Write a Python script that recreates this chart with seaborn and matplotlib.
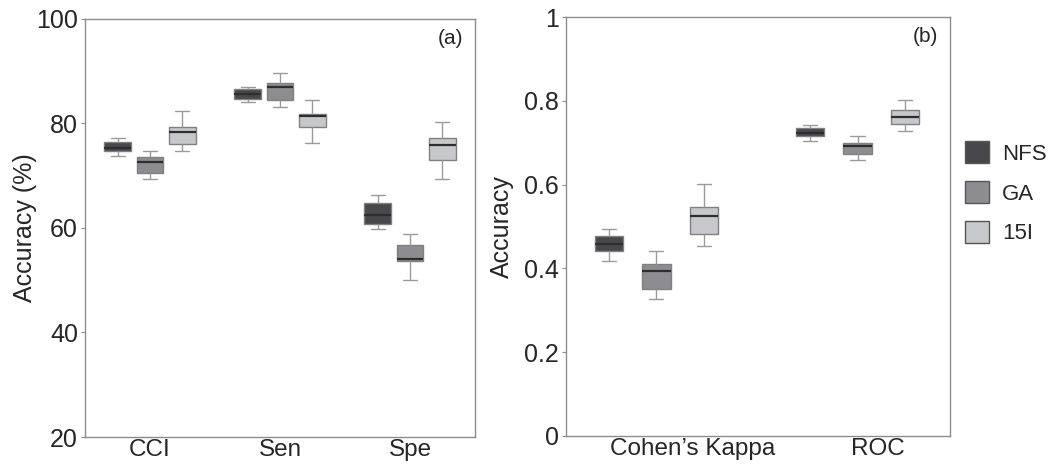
import pandas as pd
import numpy as np
import matplotlib
matplotlib.use('Agg')
import matplotlib.pyplot as plt
from matplotlib.patches import Patch
from matplotlib.transforms import ScaledTranslation
import seaborn as sns

# --- data: five-number summaries (min, q1, median, q3, max) ---
methods = ['NFS', 'GA', '15I']
left_metrics = ['CCI', 'Sen', 'Spe']
right_metrics = ['Cohen’s Kappa', 'ROC']

nfs_left = [[73.7, 74.7, 75.4, 76.4, 77.3],
            [84.2, 84.7, 85.7, 86.6, 86.9],
            [59.9, 60.8, 62.4, 64.7, 66.4]]
ga_left = [[69.4, 70.5, 72.7, 73.6, 74.8],
           [83.2, 84.5, 87.0, 87.7, 89.7],
           [50.1, 53.7, 54.1, 56.8, 58.9]]
i15_left = [[74.7, 76.0, 78.4, 79.4, 82.3],
            [76.2, 79.4, 81.4, 81.8, 84.5],
            [69.3, 73.0, 75.8, 77.2, 80.2]]

nfs_right = [[0.418, 0.441, 0.458, 0.477, 0.493],
             [0.705, 0.716, 0.724, 0.735, 0.742]]
ga_right = [[0.326, 0.352, 0.394, 0.410, 0.442],
            [0.658, 0.672, 0.691, 0.700, 0.716]]
i15_right = [[0.453, 0.481, 0.526, 0.547, 0.602],
             [0.727, 0.745, 0.762, 0.777, 0.801]]

colors = {'NFS': '#48474c', 'GA': '#8d8c91', '15I': '#c7c8cb'}


def to_long(metrics, per_method):
    rows = []
    for m, vals in zip(methods, per_method):
        for metric, five in zip(metrics, vals):
            for v in five:
                rows.append({'metric': metric, 'method': m, 'value': v})
    return pd.DataFrame(rows)


df_left = to_long(left_metrics, [nfs_left, ga_left, i15_left])
df_right = to_long(right_metrics, [nfs_right, ga_right, i15_right])

sns.set_style('white')
plt.rcParams['font.family'] = ['Liberation Sans', 'DejaVu Sans']

fig = plt.figure(figsize=(10.56, 4.65), dpi=100)
ax1 = fig.add_axes([0.0805, 0.0602, 0.3693, 0.899])
ax2 = fig.add_axes([0.536, 0.0624, 0.3636, 0.901])

box_kw = dict(whis=(0, 100), showfliers=False, linecolor='#808080', linewidth=1.0,
              medianprops=dict(color='#2e2e2e', linewidth=1.6),
              whiskerprops=dict(color='#9a9a9a'),
              capprops=dict(color='#9a9a9a'),
              saturation=1, legend=False)

sns.boxplot(data=df_left, x='metric', y='value', hue='method', order=left_metrics,
            hue_order=methods, palette=colors, width=0.74, gap=0.16, ax=ax1, **box_kw)
sns.boxplot(data=df_right, x='metric', y='value', hue='method', order=right_metrics,
            hue_order=methods, palette=colors, width=0.71, gap=0.41, ax=ax2, **box_kw)

ax1.set_ylim(20, 100)
ax1.set_yticks([20, 40, 60, 80, 100])
ax1.set_xlim(-0.5, 2.5)
ax1.set_ylabel('Accuracy (%)', fontsize=18, labelpad=-0.5)
ax1.text(0.97, 0.975, '(a)', transform=ax1.transAxes, ha='right', va='top', fontsize=15)

ax2.set_ylim(0, 1)
ax2.set_yticks([0, 0.2, 0.4, 0.6, 0.8, 1])
ax2.set_yticklabels(['0', '0.2', '0.4', '0.6', '0.8', '1'])
ax2.set_xlim(-0.45, 1.46)
ax2.set_ylabel('Accuracy', fontsize=18, labelpad=7.5)
ax2.text(0.97, 0.975, '(b)', transform=ax2.transAxes, ha='right', va='top', fontsize=15)

for ax in (ax1, ax2):
    ax.set_xlabel('')
    for sp in ax.spines.values():
        sp.set_color('#8c8c8c')
        sp.set_linewidth(1.0)
    ax.tick_params(axis='y', left=True, length=3, color='#8c8c8c', labelsize=18, pad=2)
    ax.tick_params(axis='x', length=0, labelsize=17.5, pad=1.5)

# the reference sets the right-panel category labels a little to the right of the boxes
for lab, dx in zip(ax2.get_xticklabels(), [0.36, 0.20]):
    lab.set_transform(lab.get_transform() + ScaledTranslation(dx, 0, fig.dpi_scale_trans))

handles = [Patch(facecolor=colors[m], edgecolor='#555555', linewidth=1.0, label=m) for m in methods]
fig.legend(handles=handles, loc='upper left', bbox_to_anchor=(0.905, 0.715), frameon=False,
           fontsize=16, handlelength=1.1, handleheight=1.1, labelspacing=0.75,
           handletextpad=0.6, borderaxespad=0)

fig.savefig('out.png', dpi=100)
plt.close(fig)
